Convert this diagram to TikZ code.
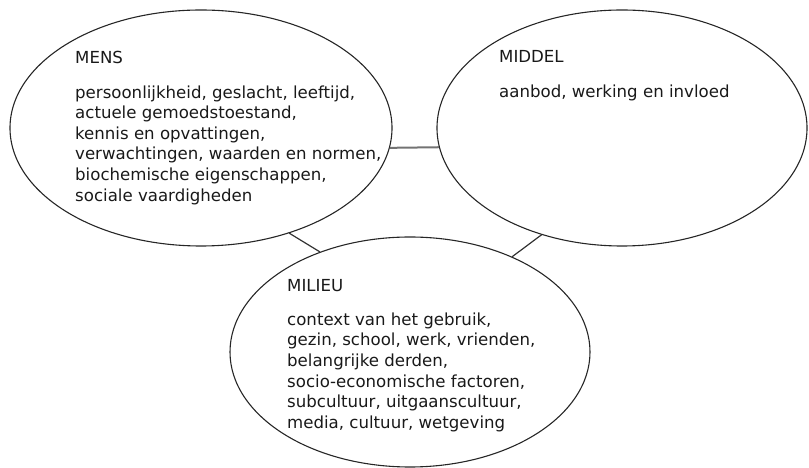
\documentclass[tikz,border=0pt]{standalone}
\usepackage{fontspec}
\setmainfont{DejaVu Sans}
\usetikzlibrary{shapes.geometric}

\begin{document}
\begin{tikzpicture}[x=1pt, y=1pt,
	blob/.style={ellipse, draw=black!85, line width=1.1pt, inner sep=0pt},
	tekst/.style={anchor=north west, align=left, inner sep=0pt, text=black!90,
		font=\fontsize{16.6}{20.6}\selectfont},
	band/.style={line width=1.2pt, draw=black!80}]
	% 1. kader
	\useasboundingbox (0,0) rectangle (809,468);
	
	% 2. ellipsen
	\node[blob, minimum width=382, minimum height=236] (mens) at (201,340) {};
	\node[blob, minimum width=370, minimum height=236] (middel) at (622,340) {};
	\node[blob, minimum width=360, minimum height=230] (milieu) at (410,116) {};
	
	% 3. verbindingen
	\draw[band, draw=black!55, line width=2pt] (mens.-6.7) -- (middel.186.8);
	\draw[band] (mens.-50.4) -- (milieu.132.9);
	\draw[band] (middel.233.6) -- (milieu.43.9);
	
	% 4. teksten
	\node[tekst] (mensTxt) at (75,417) {MENS\\[14pt]
		persoonlijkheid, geslacht, leeftijd,\\
		actuele gemoedstoestand,\\
		kennis en opvattingen,\\
		verwachtingen, waarden en normen,\\
		biochemische eigenschappen,\\
		sociale vaardigheden};
	\node[tekst] (middelTxt) at (499,417.5) {MIDDEL\\[14pt]
		aanbod, werking en invloed};
	\node[tekst] (milieuTxt) at (287,189) {MILIEU\\[13.5pt]
		context van het gebruik,\\
		gezin, school, werk, vrienden,\\
		belangrijke derden,\\
		socio-economische factoren,\\
		subcultuur, uitgaanscultuur,\\
		media, cultuur, wetgeving};
\end{tikzpicture}
\end{document}
